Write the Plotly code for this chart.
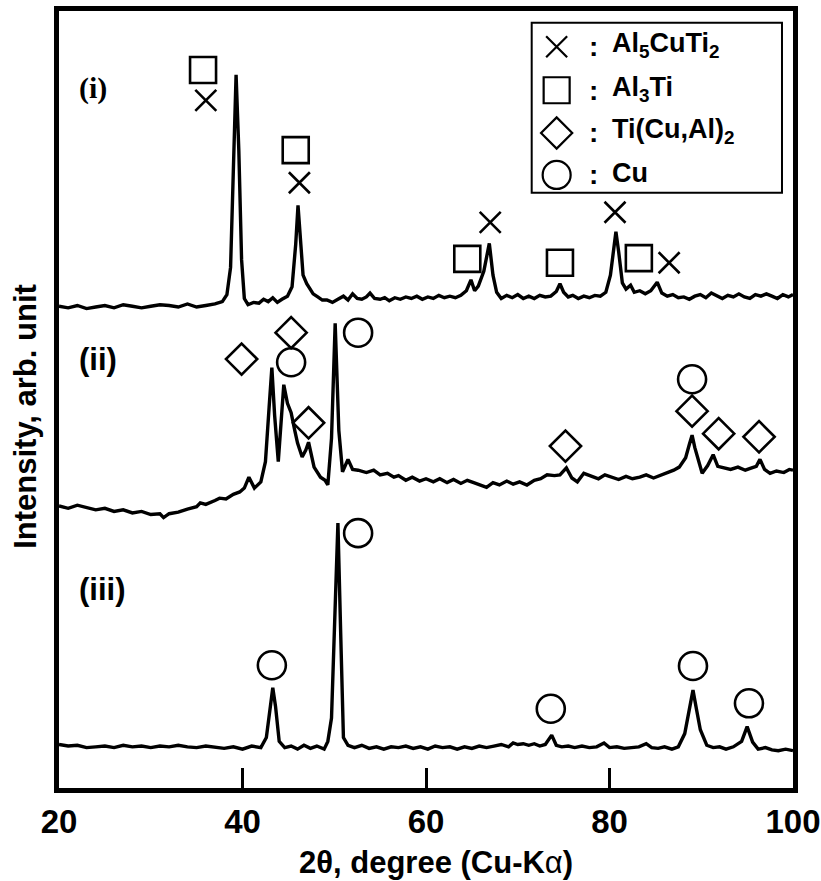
import plotly.graph_objects as go

# ---- XRD patterns (2θ in degrees, intensity in arb. units, stacked) ----
tth_i = [20.0, 21.0, 22.0, 23.0, 24.0, 25.0, 26.0, 27.0, 28.0, 29.0, 30.0, 31.0, 32.0, 33.0,
         34.0, 35.0, 36.0, 37.0, 37.8, 38.3, 38.7, 39.0, 39.3, 39.6, 39.9, 40.2, 40.6, 41.2,
         41.8, 42.3, 42.8, 43.3, 43.8, 44.3, 44.9, 45.4, 45.8, 46.05, 46.3, 46.6, 47.0, 47.3,
         47.7, 48.2, 48.7, 49.2, 49.8, 50.4, 51.0, 51.5, 52.0, 52.5, 53.0, 53.5, 53.9, 54.4,
         55.0, 55.5, 56.0, 56.6, 57.2, 57.8, 58.4, 59.0, 59.6, 60.2, 60.8, 61.4, 62.0, 62.6,
         63.2, 63.8, 64.4, 64.9, 65.3, 65.7, 66.3, 66.9, 67.3, 67.7, 68.2, 68.8, 69.4, 70.0,
         70.6, 71.2, 71.8, 72.4, 73.0, 73.6, 74.2, 74.6, 75.0, 75.5, 76.0, 76.6, 77.2, 77.8,
         78.4, 79.0, 79.6, 80.1, 80.5, 80.7, 81.0, 81.4, 81.8, 82.3, 82.7, 83.3, 83.9, 84.5,
         85.2, 85.7, 86.3, 86.9, 87.5, 88.1, 88.7, 89.3, 89.9, 90.5, 91.1, 91.7, 92.3, 92.9,
         93.5, 94.1, 94.7, 95.3, 95.9, 96.5, 97.1, 97.7, 98.3, 98.9, 99.5, 100.0]
int_i = [62.0, 61.8, 62.1, 61.7, 61.9, 62.1, 61.8, 62.2, 62.0, 61.8, 62.0, 62.2, 62.1, 61.9,
         62.3, 61.9, 62.1, 62.3, 62.6, 63.5, 67.0, 80.0, 91.8, 82.0, 68.0, 63.0, 62.2, 62.5,
         62.4, 62.9, 62.6, 63.1, 62.5, 62.9, 63.3, 64.5, 70.0, 75.0, 71.0, 66.0, 64.9, 64.4,
         63.6, 63.2, 62.8, 62.8, 62.5, 62.9, 63.3, 62.8, 63.6, 63.0, 62.9, 63.2, 63.7, 63.0,
         62.9, 63.1, 62.7, 63.1, 62.9, 63.2, 63.0, 63.3, 62.9, 63.2, 63.0, 63.4, 63.1, 63.3,
         63.1, 63.4, 64.0, 65.4, 64.0, 64.6, 66.5, 70.1, 66.0, 63.8, 63.0, 63.4, 63.1, 63.5,
         63.0, 63.3, 63.0, 63.4, 63.2, 63.3, 63.9, 64.9, 63.8, 63.2, 63.4, 63.0, 63.3, 63.1,
         63.4, 63.3, 63.8, 66.0, 70.0, 71.6, 69.0, 65.0, 64.2, 64.7, 63.8, 64.0, 63.6, 64.0,
         65.1, 63.7, 63.3, 63.5, 63.1, 63.2, 62.9, 63.3, 63.5, 63.1, 63.7, 63.4, 63.0, 63.4,
         63.2, 63.6, 63.2, 63.0, 63.5, 63.3, 63.6, 63.3, 63.0, 63.5, 63.2, 63.5]

tth_ii = [20.0, 21.0, 22.0, 23.0, 24.0, 25.0, 26.0, 27.0, 28.0, 29.0, 30.0, 31.0, 31.4, 32.0,
          33.0, 34.0, 35.0, 35.4, 36.0, 37.0, 37.5, 38.2, 39.0, 39.7, 40.2, 40.7, 41.3, 42.0,
          42.5, 42.9, 43.2, 43.5, 43.9, 44.2, 44.5, 44.9, 45.3, 45.7, 46.0, 46.5, 46.9, 47.2,
          47.8, 48.5, 49.0, 49.3, 49.7, 50.1, 50.5, 50.9, 51.5, 52.0, 52.6, 53.5, 54.3, 55.0,
          55.8, 56.5, 57.0, 57.8, 58.5, 59.3, 60.0, 60.8, 61.5, 62.3, 63.0, 63.8, 64.5, 65.2,
          66.0, 66.6, 67.3, 68.0, 68.8, 69.5, 70.2, 71.0, 71.8, 72.5, 73.2, 74.0, 74.6, 75.3,
          75.9, 76.5, 77.2, 78.0, 78.8, 79.5, 80.3, 81.0, 81.8, 82.5, 83.3, 84.0, 84.8, 85.5,
          86.2, 87.0, 87.6, 88.3, 88.7, 89.0, 89.3, 89.7, 90.1, 90.7, 91.3, 91.8, 92.4, 93.2,
          94.0, 94.8, 95.5, 96.0, 96.4, 96.9, 97.5, 98.2, 99.0, 99.6, 100.0]
int_ii = [36.3, 36.0, 36.4, 36.1, 35.8, 36.0, 35.6, 35.8, 35.4, 35.6, 35.2, 35.3, 34.8, 35.3,
          35.5, 35.9, 36.2, 36.7, 36.5, 37.0, 37.3, 37.2, 37.8, 38.1, 38.6, 40.0, 38.6, 39.4,
          42.0, 49.0, 54.1, 48.0, 42.0, 47.0, 51.9, 49.5, 48.3, 46.0, 44.4, 42.6, 43.5, 44.5,
          41.3, 40.0, 39.6, 39.0, 45.0, 59.8, 46.0, 40.7, 42.3, 41.0, 40.9, 40.6, 40.9, 40.3,
          40.5, 40.0, 40.2, 39.6, 40.0, 39.5, 39.8, 39.4, 39.8, 39.3, 39.7, 39.2, 39.6, 39.3,
          39.0, 38.7, 39.3, 39.0, 39.5, 39.1, 39.4, 39.0, 39.6, 39.8, 40.3, 40.2, 40.3, 41.2,
          39.9, 39.4, 40.5, 40.2, 39.8, 40.3, 40.0, 39.7, 40.1, 39.8, 40.0, 40.3, 39.9, 40.2,
          40.5, 40.9, 41.3, 42.5, 44.2, 45.4, 43.8, 42.0, 40.5, 41.5, 42.9, 41.4, 41.2, 41.0,
          41.3, 40.9, 41.2, 41.4, 42.3, 41.0, 40.5, 40.8, 40.6, 41.0, 40.9]

tth_iii = [20.0, 21.0, 22.0, 23.0, 24.0, 25.0, 26.0, 27.0, 28.0, 29.0, 30.0, 31.0, 32.0, 33.0,
           34.0, 35.0, 36.0, 37.0, 38.0, 39.0, 40.0, 41.0, 42.0, 42.6, 43.0, 43.3, 43.6, 44.0,
           44.6, 45.3, 46.0, 46.7, 47.4, 48.1, 48.9, 49.3, 49.7, 50.0, 50.4, 50.7, 51.0, 51.5,
           52.2, 53.0, 53.8, 54.6, 55.4, 56.2, 57.0, 57.8, 58.6, 59.4, 60.2, 61.0, 61.8, 62.6,
           63.4, 64.2, 65.0, 65.8, 66.6, 67.4, 68.2, 69.0, 69.5, 70.0, 70.6, 71.2, 71.8, 72.4,
           73.0, 73.7, 74.2, 74.8, 75.5, 76.2, 77.0, 77.8, 78.6, 79.4, 80.0, 80.8, 81.6, 82.4,
           83.2, 84.0, 84.6, 85.3, 86.0, 86.8, 87.5, 88.2, 88.7, 89.1, 89.5, 89.9, 90.6, 91.3,
           92.0, 92.7, 93.5, 94.4, 95.0, 95.6, 96.2, 97.0, 97.7, 98.4, 99.2, 100.0]
int_iii = [5.6, 5.4, 5.5, 5.2, 5.3, 5.4, 5.2, 5.5, 5.3, 5.4, 5.2, 5.4, 5.3, 5.5, 5.3, 5.2,
           5.4, 5.3, 5.1, 5.3, 5.0, 5.4, 5.2, 6.5, 10.0, 12.9, 10.5, 6.0, 5.2, 5.4, 5.0, 5.5,
           5.1, 5.4, 5.0, 6.0, 9.0, 20.0, 34.1, 20.0, 6.5, 5.5, 5.2, 5.5, 5.1, 5.3, 5.0, 5.3,
           5.2, 5.4, 5.1, 5.3, 5.0, 5.4, 5.2, 5.3, 5.0, 5.3, 5.1, 5.4, 5.2, 5.4, 5.6, 5.3,
           5.8, 5.6, 5.7, 5.5, 5.7, 5.4, 5.6, 6.8, 5.5, 5.3, 5.4, 5.2, 5.4, 5.2, 5.3, 5.8,
           5.2, 5.3, 5.1, 5.2, 5.3, 5.7, 5.2, 5.1, 5.3, 5.0, 5.3, 7.0, 10.0, 12.6, 10.0, 7.5,
           5.5, 5.2, 5.3, 5.0, 5.3, 6.0, 7.9, 5.9, 5.0, 5.2, 4.9, 4.8, 5.0, 4.8]

# ---- Phase identification marks (2θ, height of symbol) ----
al5cuti2_x = [36.0, 46.2, 67.0, 80.6, 86.5]
al5cuti2_y = [88.5, 77.9, 72.8, 74.1, 67.6]
al3ti_x = [35.7, 45.8, 64.5, 74.6, 83.2]
al3ti_y = [92.4, 82.1, 68.1, 67.6, 68.2]
ticual_x = [39.9, 45.3, 47.2, 75.2, 89.0, 91.9, 96.3]
ticual_y = [55.2, 58.6, 47.0, 44.0, 48.5, 45.6, 45.2]
cu_x = [45.3, 52.6, 89.0, 43.2, 52.6, 73.6, 89.1, 95.2]
cu_y = [54.8, 58.6, 52.6, 15.8, 32.8, 10.2, 15.7, 10.9]

x_ticks = [20, 40, 60, 80, 100]
pattern_labels = ["(i)", "(ii)", "(iii)"]
phase_names = ["Al<sub>5</sub>CuTi<sub>2</sub>", "Al<sub>3</sub>Ti",
               "Ti(Cu,Al)<sub>2</sub>", "Cu"]

SANS = "Liberation Sans, Arial, sans-serif"
NARROW = "Liberation Sans Narrow, Arial Narrow, Liberation Sans, sans-serif"
SERIF = "Liberation Serif, Times New Roman, serif"

fig = go.Figure()

for tx, iy in [(tth_i, int_i), (tth_ii, int_ii), (tth_iii, int_iii)]:
    fig.add_trace(go.Scatter(x=tx, y=iy, mode="lines",
                             line=dict(color="black", width=3.4),
                             showlegend=False, hoverinfo="skip"))

sym_style = {
    "x-thin-open": 21,
    "square-open": 26,
    "diamond-open": 24,
    "circle-open": 28,
}
for xs, ys, sym in [(al5cuti2_x, al5cuti2_y, "x-thin-open"),
                    (al3ti_x, al3ti_y, "square-open"),
                    (ticual_x, ticual_y, "diamond-open"),
                    (cu_x, cu_y, "circle-open")]:
    fig.add_trace(go.Scatter(x=xs, y=ys, mode="markers", cliponaxis=False,
                             marker=dict(symbol=sym, size=sym_style[sym], color="black",
                                         line=dict(color="black", width=2.6)),
                             showlegend=False, hoverinfo="skip"))

# ---- Hand-built legend on a hidden overlay axis (0..1 across the plot area) ----
leg_rows = [0.954, 0.898, 0.843, 0.789]
leg_syms = ["x-thin-open", "square-open", "diamond-open", "circle-open"]
for yy, sym in zip(leg_rows, leg_syms):
    fig.add_trace(go.Scatter(x=[0.678], y=[yy], xaxis="x2", yaxis="y2", mode="markers",
                             cliponaxis=False,
                             marker=dict(symbol=sym, size=sym_style[sym], color="black",
                                         line=dict(color="black", width=2.2)),
                             showlegend=False, hoverinfo="skip"))

annotations = []
for yy, name in zip(leg_rows, phase_names):
    annotations.append(dict(xref="paper", yref="paper", x=0.728, y=yy, text="<b>:</b>",
                            showarrow=False, xanchor="center", yanchor="middle",
                            font=dict(family=SANS, size=28, color="black")))
    annotations.append(dict(xref="paper", yref="paper", x=0.750, y=yy + 0.002,
                            text="<b>" + name + "</b>", showarrow=False,
                            xanchor="left", yanchor="middle",
                            font=dict(family=SANS, size=27, color="black")))

label_pos = [(0.024, 0.901, SERIF, 30), (0.024, 0.551, NARROW, 31), (0.024, 0.256, NARROW, 31)]
for lab, (lx, ly, fam, fs) in zip(pattern_labels, label_pos):
    annotations.append(dict(xref="paper", yref="paper", x=lx, y=ly, text="<b>" + lab + "</b>",
                            showarrow=False, xanchor="left", yanchor="middle",
                            font=dict(family=fam, size=fs, color="black")))

annotations.append(dict(xref="paper", yref="paper", x=0.514, y=-0.096,
                        text="<b>2θ, degree (Cu-K</b>α<b>)</b>", showarrow=False,
                        xanchor="center", yanchor="middle",
                        font=dict(family=SANS, size=31, color="black")))
annotations.append(dict(xref="paper", yref="paper", x=-0.046, y=0.478,
                        text="<b>Intensity, arb. unit</b>", showarrow=False, textangle=-90,
                        xanchor="center", yanchor="middle",
                        font=dict(family=SANS, size=31, color="black")))

fig.update_layout(
    width=821, height=881,
    margin=dict(l=59, r=28, t=11, b=93, autoexpand=False),
    paper_bgcolor="white", plot_bgcolor="white",
    showlegend=False,
    xaxis=dict(range=[20, 100], tickvals=x_ticks, ticks="inside", ticklen=20, tickwidth=3,
               tickcolor="black", showline=True, linewidth=5, linecolor="black",
               mirror=True, showgrid=False, zeroline=False, automargin=False,
               tickfont=dict(family=SANS, size=33, color="black", weight="bold")),
    yaxis=dict(range=[0, 100], showticklabels=False, ticks="", showline=True,
               linewidth=5, linecolor="black", mirror=True, showgrid=False, zeroline=False,
               automargin=False),
    xaxis2=dict(range=[0, 1], overlaying="x", visible=False),
    yaxis2=dict(range=[0, 1], overlaying="y", visible=False),
    shapes=[dict(type="rect", xref="paper", yref="paper", x0=0.644, x1=0.985,
                 y0=0.766, y1=0.985, line=dict(color="black", width=2),
                 fillcolor="rgba(0,0,0,0)")],
    annotations=annotations,
)

fig.write_html("out.html")
